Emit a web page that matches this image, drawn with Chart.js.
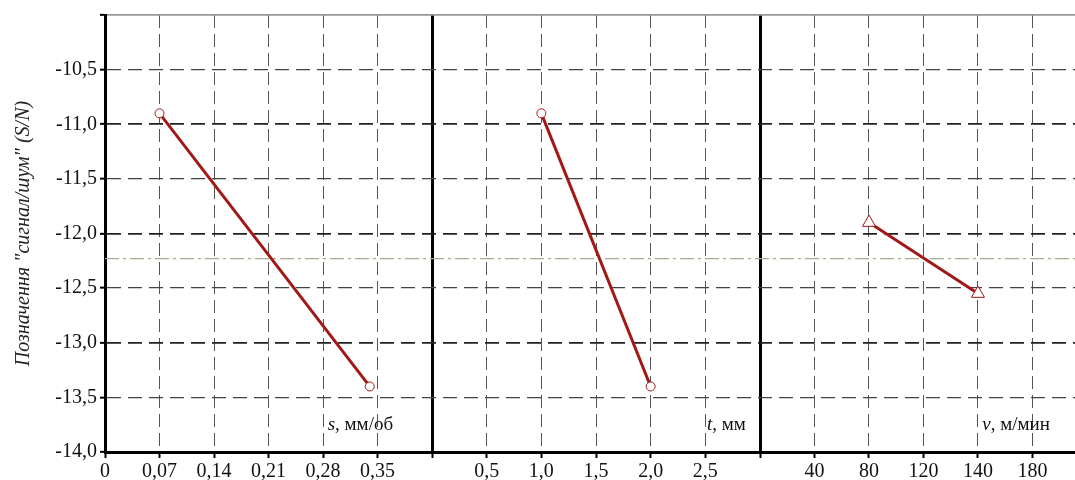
<!DOCTYPE html>
<html>
<head>
<meta charset="utf-8">
<script src="https://cdn.jsdelivr.net/npm/chart.js@4"></script>
<style>
  html, body { margin: 0; padding: 0; background: #fff; }
  #wrap { width: 1075px; height: 480px; }
</style>
</head>
<body>
<div id="wrap"><canvas id="grafico" width="1075" height="480"></canvas></div>
<script>
// dados
const sTicks = [0, 0.07, 0.14, 0.21, 0.28, 0.35];
const sValues = [0.07, 0.34];
const sSN = [-10.9, -13.4];

const tTicks = [0, 0.5, 1.0, 1.5, 2.0, 2.5];
const tValues = [1.0, 2.0];
const tSN = [-10.9, -13.4];

const vTickLabels = [40, 80, 120, 140, 180];
const vValues = [80, 140];
const vSN = [-11.9, -12.55];

const meanSN = -12.23;

const yTitle = 'Позначення "сигнал/шум" (S/N)';
const axisNames = [
  { axis: 'x1', at: 0.37, letter: 's', rest: ', мм/об' },
  { axis: 'x2', at: 2.87, letter: 't', rest: ', мм' },
  { axis: 'x3', at: 5.32, letter: 'v', rest: ', м/мин' }
];

const serif = "'Liberation Serif', 'DejaVu Serif', serif";
const lineColor = '#a01818';

function fmt(v, dec) {
  return v.toFixed(dec).replace('.', ',');
}

// eixo v: posição pelo índice do rótulo
const vIndex = v => vTickLabels.indexOf(v) + 1;

function xAxis(stackWeight, min, max, tickVals, label) {
  return {
    type: 'linear',
    position: 'bottom',
    stack: 'paineis',
    stackWeight: stackWeight,
    min: min,
    max: max,
    afterBuildTicks: axis => { axis.ticks = tickVals.map(v => ({ value: v })); },
    afterFit: axis => {
      axis.height = 28;
      axis.paddingLeft = 0;
      axis.paddingRight = 0;
    },
    ticks: {
      autoSkip: false,
      maxRotation: 0,
      padding: 2,
      color: '#111',
      font: { family: serif, size: 20 },
      callback: label
    },
    grid: {
      color: ctx => ctx.tick && ctx.tick.value === 0 ? '#000' : '#555',
      lineWidth: ctx => ctx.tick && ctx.tick.value === 0 ? 3 : 1,
      tickLength: 6,
      tickColor: '#000',
      tickWidth: 2
    },
    border: {
      display: true,
      color: '#000',
      width: 3,
      dash: ctx => ctx.tick && ctx.tick.value === 0 ? [] : [13, 6]
    }
  };
}

const labelsPlugin = {
  id: 'nomesEixos',
  afterDatasetsDraw(chart) {
    const ctx = chart.ctx;
    const y = chart.scales.y.getPixelForValue(-13.75);
    ctx.save();
    ctx.fillStyle = '#111';
    ctx.textBaseline = 'middle';
    axisNames.forEach(n => {
      const right = chart.scales[n.axis].getPixelForValue(n.at);
      ctx.font = '19px ' + serif;
      const wRest = ctx.measureText(n.rest).width;
      ctx.font = 'italic 19px ' + serif;
      const wLetter = ctx.measureText(n.letter).width;
      const left = right - wRest - wLetter;
      ctx.textAlign = 'left';
      ctx.fillText(n.letter, left, y);
      ctx.font = '19px ' + serif;
      ctx.fillText(n.rest, left + wLetter, y);
    });
    ctx.restore();
  }
};

const pointStyle = {
  borderColor: lineColor,
  borderWidth: 3,
  pointBackgroundColor: '#fff',
  pointBorderColor: lineColor,
  pointBorderWidth: 1,
  order: 1
};

new Chart(document.getElementById('grafico'), {
  type: 'line',
  data: {
    datasets: [
      Object.assign({
        label: 's',
        xAxisID: 'x1',
        data: sValues.map((x, i) => ({ x: x, y: sSN[i] })),
        pointStyle: 'circle',
        pointRadius: 4.5
      }, pointStyle),
      Object.assign({
        label: 't',
        xAxisID: 'x2',
        data: tValues.map((x, i) => ({ x: x, y: tSN[i] })),
        pointStyle: 'circle',
        pointRadius: 4.5
      }, pointStyle),
      Object.assign({
        label: 'v',
        xAxisID: 'x3',
        data: vValues.map((v, i) => ({ x: vIndex(v), y: vSN[i] })),
        pointStyle: 'triangle',
        pointRadius: 7.5
      }, pointStyle),
      {
        label: 'media',
        xAxisID: 'xm',
        data: [{ x: 0, y: meanSN }, { x: 1, y: meanSN }],
        borderColor: '#a8a88c',
        borderWidth: 1.2,
        borderDash: [14, 4, 3, 4],
        pointRadius: 0,
        order: 2
      }
    ]
  },
  options: {
    responsive: false,
    animation: false,
    layout: { autoPadding: false, padding: { top: 15, right: 0, left: 0, bottom: 0 } },
    plugins: { legend: { display: false }, tooltip: { enabled: false } },
    scales: {
      x1: xAxis(327, 0, 0.42, sTicks, v => fmt(v, v === 0 ? 0 : 2)),
      x2: xAxis(328, 0, 3, tTicks, v => v === 0 ? '' : fmt(v, 1)),
      x3: xAxis(315, 0, 5.78, [0, 1, 2, 3, 4, 5], v => v === 0 ? '' : String(vTickLabels[v - 1])),
      xm: { type: 'linear', display: false, min: 0, max: 1 },
      y: {
        type: 'linear',
        min: -14,
        max: -10,
        afterBuildTicks: axis => {
          const t = [];
          for (let i = 0; i <= 8; i++) t.push({ value: -14 + i * 0.5 });
          axis.ticks = t;
        },
        afterFit: axis => { axis.width = 105; },
        title: {
          display: true,
          text: yTitle,
          color: '#222',
          font: { family: serif, size: 20, style: 'italic' },
          padding: { top: 12, bottom: 0 }
        },
        ticks: {
          padding: 3,
          color: '#111',
          font: { family: serif, size: 20 },
          callback: v => v === -10 ? '' : fmt(v, 1)
        },
        grid: {
          color: ctx => {
            if (!ctx.tick) return '#444';
            if (ctx.tick.value === -10) return '#999';
            if (ctx.tick.value === -14) return 'rgba(0,0,0,0)';
            return Number.isInteger(ctx.tick.value) ? '#222' : '#444';
          },
          lineWidth: ctx => ctx.tick && Number.isInteger(ctx.tick.value) ? 1.7 : 1.3,
          tickLength: 5,
          tickColor: '#000',
          tickWidth: 2
        },
        border: {
          display: true,
          color: '#000',
          width: 3,
          dash: ctx => ctx.tick && ctx.tick.value === -10 ? [] : [14, 7]
        }
      }
    }
  },
  plugins: [labelsPlugin]
});
</script>
</body>
</html>
